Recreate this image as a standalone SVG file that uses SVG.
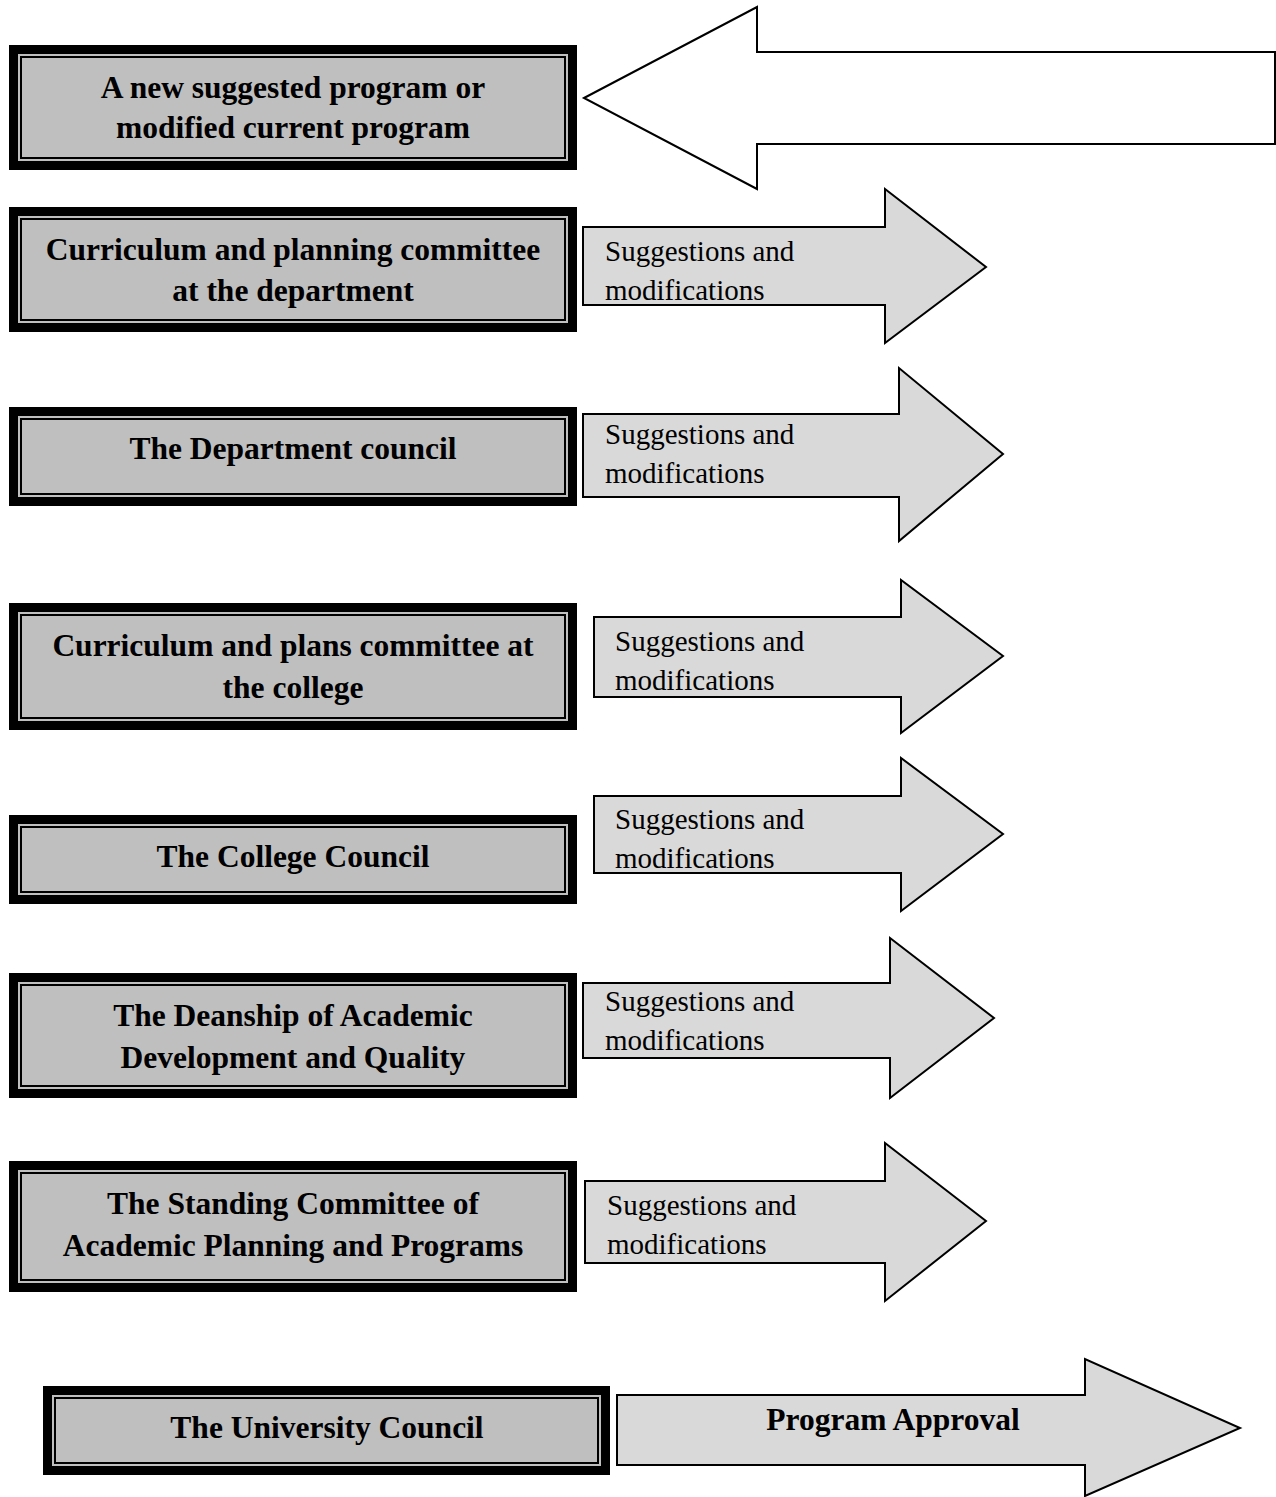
<svg xmlns="http://www.w3.org/2000/svg" width="1276" height="1497" viewBox="0 0 1276 1497">
<style>
.outer{fill:#000}
.band{fill:#bfbfbf}
.inner{fill:#bfbfbf;stroke:#000;stroke-width:2}
text{font-family:'Liberation Serif','Times New Roman',Times,'DejaVu Serif',serif}
.bt{font-weight:bold;font-size:31.5px;text-anchor:middle;fill:#000}
.at{font-size:29px;fill:#000}
.arr{fill:#d9d9d9;stroke:#000;stroke-width:2;stroke-linejoin:miter}
.big{fill:#fff;stroke:#000;stroke-width:2}
</style>
<rect width="1276" height="1497" fill="#fff"/>
<g id="connectors">
<polygon class="big" points="584,98 757,7 757,52 1275,52 1275,144 757,144 757,189"/>
<polygon class="arr" points="583,227 885,227 885,189 986,267 885,343 885,305 583,305"/>
<polygon class="arr" points="583,414 899,414 899,368 1003,454 899,541 899,497 583,497"/>
<polygon class="arr" points="594,617 901,617 901,580 1003,656 901,733 901,697 594,697"/>
<polygon class="arr" points="594,796 901,796 901,758 1003,834 901,911 901,873 594,873"/>
<polygon class="arr" points="583,983 890,983 890,938 994,1018 890,1098 890,1058 583,1058"/>
<polygon class="arr" points="585,1181 885,1181 885,1143 986,1221 885,1301 885,1263 585,1263"/>
<polygon class="arr" points="617,1395 1085,1395 1085,1359 1240,1428 1085,1496 1085,1465 617,1465"/>
<text class="at" x="605" y="261">Suggestions and</text>
<text class="at" x="605" y="300">modifications</text>
<text class="at" x="605" y="444">Suggestions and</text>
<text class="at" x="605" y="483">modifications</text>
<text class="at" x="615" y="651">Suggestions and</text>
<text class="at" x="615" y="690">modifications</text>
<text class="at" x="615" y="829">Suggestions and</text>
<text class="at" x="615" y="868">modifications</text>
<text class="at" x="605" y="1011">Suggestions and</text>
<text class="at" x="605" y="1050">modifications</text>
<text class="at" x="607" y="1215">Suggestions and</text>
<text class="at" x="607" y="1254">modifications</text>
<text class="bt" x="893" y="1430">Program Approval</text>
</g>
<g id="n1">
<rect class="outer" x="9" y="45" width="568" height="125"/>
<rect class="band" x="18" y="54" width="550" height="107"/>
<rect class="inner" x="21" y="57" width="544" height="101"/>
<text class="bt" x="293" y="98">A new suggested program or</text>
<text class="bt" x="293" y="138">modified current program</text>
</g>
<g id="n2">
<rect class="outer" x="9" y="207" width="568" height="125"/>
<rect class="band" x="18" y="216" width="550" height="107"/>
<rect class="inner" x="21" y="219" width="544" height="101"/>
<text class="bt" x="293" y="260">Curriculum and planning committee</text>
<text class="bt" x="293" y="301">at the department</text>
</g>
<g id="n3">
<rect class="outer" x="9" y="407" width="568" height="99"/>
<rect class="band" x="18" y="416" width="550" height="81"/>
<rect class="inner" x="21" y="419" width="544" height="75"/>
<text class="bt" x="293" y="459">The Department council</text>
</g>
<g id="n4">
<rect class="outer" x="9" y="603" width="568" height="127"/>
<rect class="band" x="18" y="612" width="550" height="109"/>
<rect class="inner" x="21" y="615" width="544" height="103"/>
<text class="bt" x="293" y="656">Curriculum and plans committee at</text>
<text class="bt" x="293" y="698">the college</text>
</g>
<g id="n5">
<rect class="outer" x="9" y="815" width="568" height="89"/>
<rect class="band" x="18" y="824" width="550" height="71"/>
<rect class="inner" x="21" y="827" width="544" height="65"/>
<text class="bt" x="293" y="867">The College Council</text>
</g>
<g id="n6">
<rect class="outer" x="9" y="973" width="568" height="125"/>
<rect class="band" x="18" y="982" width="550" height="107"/>
<rect class="inner" x="21" y="985" width="544" height="101"/>
<text class="bt" x="293" y="1026">The Deanship of Academic</text>
<text class="bt" x="293" y="1068">Development and Quality</text>
</g>
<g id="n7">
<rect class="outer" x="9" y="1161" width="568" height="131"/>
<rect class="band" x="18" y="1170" width="550" height="113"/>
<rect class="inner" x="21" y="1173" width="544" height="107"/>
<text class="bt" x="293" y="1214">The Standing Committee of</text>
<text class="bt" x="293" y="1256">Academic Planning and Programs</text>
</g>
<g id="n8">
<rect class="outer" x="43" y="1386" width="567" height="89"/>
<rect class="band" x="52" y="1395" width="549" height="71"/>
<rect class="inner" x="55" y="1398" width="543" height="65"/>
<text class="bt" x="327" y="1438">The University Council</text>
</g>
</svg>
